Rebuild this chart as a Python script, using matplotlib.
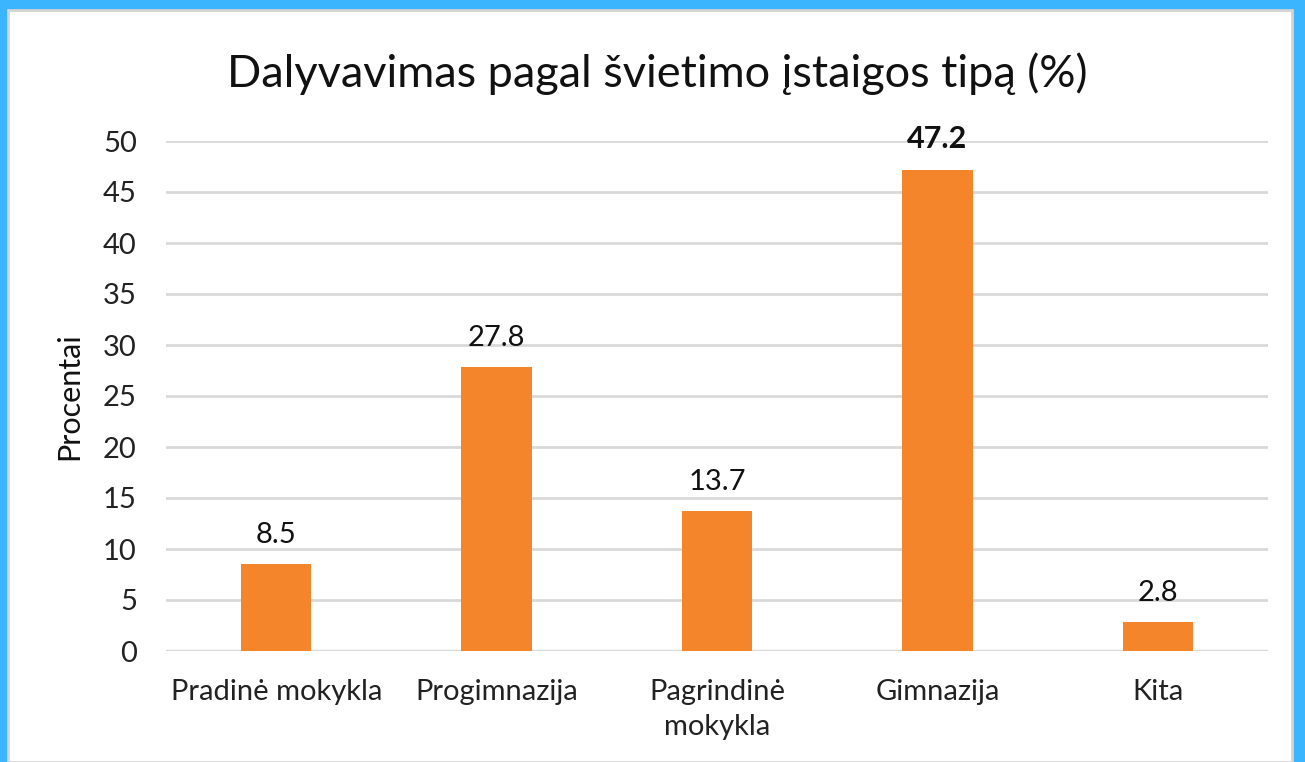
import matplotlib
matplotlib.use("Agg")
import matplotlib.pyplot as plt
from matplotlib.patches import Rectangle

categories = ["Pradinė mokykla", "Progimnazija", "Pagrindinė\nmokykla", "Gimnazija", "Kita"]
values = [8.5, 27.8, 13.7, 47.2, 2.8]
label_texts = ["8.5", "27.8", "13.7", "47.2", "2.8"]
yticks = [0, 5, 10, 15, 20, 25, 30, 35, 40, 45, 50]

plt.rcParams['font.family'] = ['Lato', 'Open Sans', 'DejaVu Sans']

W, H = 1305, 762
fig = plt.figure(figsize=(W / 100, H / 100), dpi=100)
fig.patch.set_facecolor('#3AB5FE')
# white panel
fig.patches.append(Rectangle((8 / W, 0), (1292 - 8) / W, (H - 10) / H,
                             transform=fig.transFigure, facecolor='white',
                             edgecolor='#D4D4D4', linewidth=2, zorder=-5))

ax = fig.add_axes([166 / W, 1 - 651 / H, (1268 - 166) / W, (651 - 141) / H])
ax.set_zorder(2)
ax.set_facecolor('none')
x = list(range(len(categories)))
bars = ax.bar(x, values, width=0.32, color='#F5852A', zorder=3)
ax.set_xlim(-0.5, len(categories) - 0.5)
ax.set_ylim(0, 50)
ax.set_yticks(yticks)
ax.set_yticklabels([str(t) for t in yticks], fontsize=21, color='#222222')
ax.set_xticks(x)
ax.set_xticklabels(categories, fontsize=21, color='#222222', linespacing=1.45)
ax.tick_params(axis='x', length=0, pad=20)
ax.tick_params(axis='y', length=0, pad=21)
ax.grid(axis='y', color='#D9D9D9', linewidth=2, zorder=0)
for s in ax.spines.values():
    s.set_visible(False)
ax.axhline(0, color='#D9D9D9', linewidth=2.5, zorder=2)

for xi, v, t in zip(x, values, label_texts):
    bold = (v == max(values))
    ax.annotate(t, (xi, v), xytext=(0, 12), textcoords='offset points',
                ha='center', va='bottom', fontsize=22 if bold else 21,
                fontweight='bold' if bold else 'normal', color='#111111')

ax.set_ylabel("Procentai", fontsize=22, color='#111111', labelpad=14)
fig.text(657 / W, 1 - 74 / H, "Dalyvavimas pagal švietimo įstaigos tipą (%)",
         ha='center', va='center', fontsize=32.5, color='#111111')

fig.savefig("out.png", dpi=100, facecolor=fig.get_facecolor())
